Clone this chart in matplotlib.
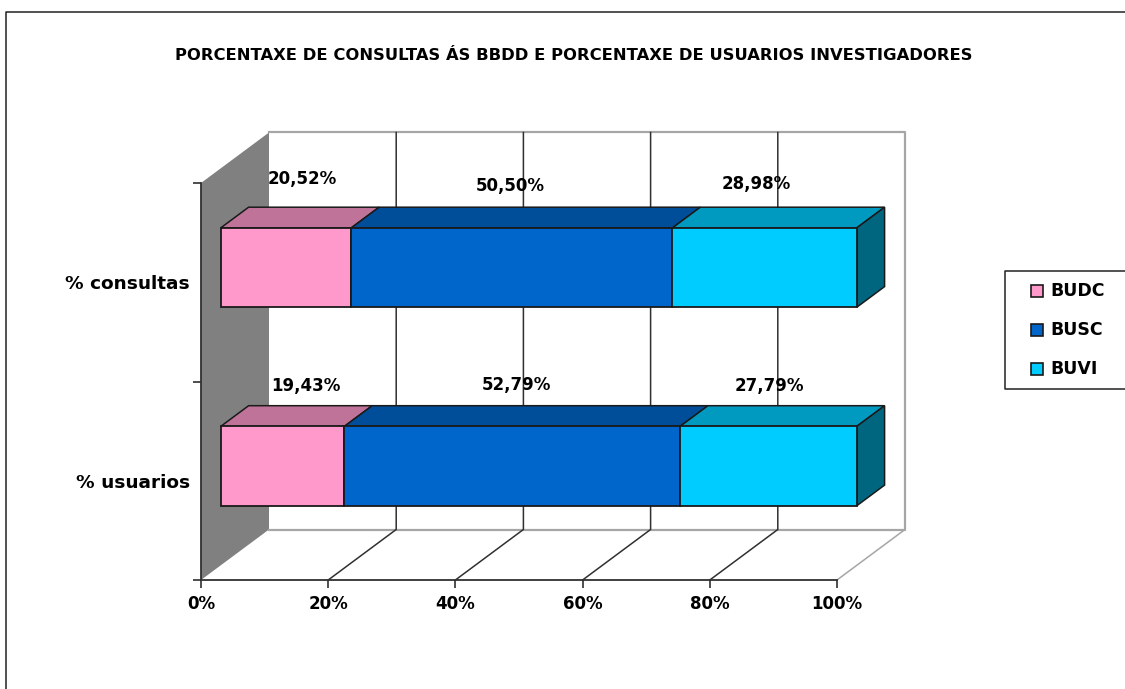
import matplotlib
matplotlib.use('Agg')
import matplotlib.pyplot as plt
from matplotlib.patches import Polygon, Rectangle
from matplotlib.lines import Line2D

W, H = 1125, 689

title = 'PORCENTAXE DE CONSULTAS ÁS BBDD E PORCENTAXE DE USUARIOS INVESTIGADORES'
categories = ['% usuarios', '% consultas']
series = ['BUDC', 'BUSC', 'BUVI']
usuarios = [19.43, 52.79, 27.79]
consultas = [20.52, 50.50, 28.98]
xticks = [0, 20, 40, 60, 80, 100]

front_colors = ['#FF99CC', '#0066CC', '#00CCFF']
top_colors = ['#BF7399', '#004D99', '#0099BF']
side_colors = ['#804D66', '#003366', '#006680']
text_kw = dict(fontweight='bold', family='DejaVu Sans', color='black')

# depth of the fake 3d box, in data units
DX = 68 / 636 * 100
DY = 50.5 / 397 * 2
D0, D1 = 0.29, 0.70
BAR_H = 0.4


def proj(x, y, d):
    return (x + d * DX, y + d * DY)


def px(x, y):
    return x / W, 1 - y / H


fig = plt.figure(figsize=(W / 100, H / 100), dpi=100)
ax = fig.add_axes([201 / W, 1 - 580 / H, 636 / W, 397 / H])
ax.set_xlim(0, 100)
ax.set_ylim(0, 2)
ax.patch.set_alpha(0)

# outer chart frame, only left and top are inside the picture
fig.add_artist(Line2D([6 / W, 6 / W, 1], [0, 1 - 12 / H, 1 - 12 / H], color='#222222', lw=1.1))

# left wall and back wall
ax.add_patch(Polygon([proj(0, 0, 0), proj(0, 0, 1), proj(0, 2, 1), proj(0, 2, 0)],
                     closed=True, fc='#808080', ec='none', zorder=1, clip_on=False))
ax.plot(*zip(proj(0, 0, 1), proj(100, 0, 1), proj(100, 2, 1), proj(0, 2, 1)),
        color='#a6a6a6', lw=1.6, zorder=1, clip_on=False)
ax.plot(*zip(proj(100, 0, 0), proj(100, 0, 1)), color='#a6a6a6', lw=1.1, zorder=1, clip_on=False)
for t in xticks[1:-1]:
    ax.plot(*zip(proj(t, 0, 0), proj(t, 0, 1), proj(t, 2, 1)), color='#303030', lw=1.1,
            zorder=1.5, clip_on=False)

# bars
for row, values in enumerate([usuarios, consultas]):
    y0 = row + 0.5 - BAR_H / 2
    y1 = row + 0.5 + BAR_H / 2
    left = 0
    for i, v in enumerate(values):
        right = min(left + v, 100)
        ax.add_patch(Polygon([proj(left, y1, D0), proj(right, y1, D0), proj(right, y1, D1), proj(left, y1, D1)],
                             closed=True, fc=top_colors[i], ec='#1a1a1a', lw=1.1, zorder=3, clip_on=False))
        ax.add_patch(Polygon([proj(left, y0, D0), proj(right, y0, D0), proj(right, y1, D0), proj(left, y1, D0)],
                             closed=True, fc=front_colors[i], ec='#1a1a1a', lw=1.3, zorder=4, clip_on=False))
        left = right
    ax.add_patch(Polygon([proj(100, y0, D0), proj(100, y0, D1), proj(100, y1, D1), proj(100, y1, D0)],
                         closed=True, fc=side_colors[2], ec='#1a1a1a', lw=1.1, zorder=3, clip_on=False))

# value labels, placed by hand like in the original
label_pos = [[(306, 386), (516, 385), (769, 386)], [(302, 179), (510, 186), (756, 184)]]
for row, values in enumerate([usuarios, consultas]):
    for v, (lx, ly) in zip(values, label_pos[row]):
        s = f'{v:.2f}%'.replace('.', ',')
        fig.text(*px(lx, ly), s, ha='center', va='center', fontsize=12, zorder=6, **text_kw)

# axes
for side in ['top', 'right']:
    ax.spines[side].set_visible(False)
for side in ['left', 'bottom']:
    ax.spines[side].set_color('#303030')
    ax.spines[side].set_linewidth(1.3)
ax.set_xticks(xticks)
ax.set_xticklabels([f'{t}%' for t in xticks], fontsize=12, **text_kw)
ax.set_yticks([0, 1, 2])
ax.set_yticklabels([])
ax.set_yticks([0.5, 1.5], minor=True)
ax.set_yticklabels(categories, minor=True, fontsize=13.3, **text_kw)
ax.tick_params(axis='both', which='major', length=6, width=1.2, color='#303030')
ax.tick_params(axis='x', pad=5)
ax.tick_params(axis='y', which='minor', length=0, pad=8)

fig.text(*px(574, 55), title, ha='center', va='center', fontsize=11.75, **text_kw)

# legend box runs off the right edge
fig.add_artist(Line2D([1, 1005 / W, 1005 / W, 1], [1 - 271 / H, 1 - 271 / H, 1 - 389 / H, 1 - 389 / H],
                      color='#222222', lw=1.1))
for i, name in enumerate(series):
    yc = 291 + i * 39
    fig.add_artist(Rectangle(px(1031, yc + 6), 12 / W, 12 / H, fc=front_colors[i], ec='#1a1a1a', lw=1.2,
                             transform=fig.transFigure))
    fig.text(*px(1050, yc), name, ha='left', va='center', fontsize=12.5, **text_kw)

fig.savefig('out.png', dpi=100)
